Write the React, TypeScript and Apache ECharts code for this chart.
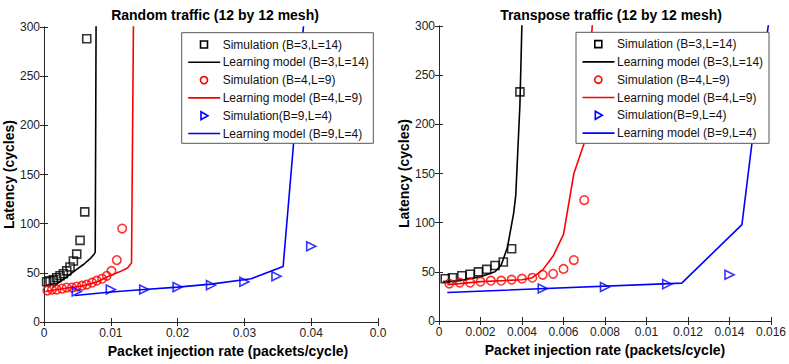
import React, { useEffect, useRef } from "react";
import * as echarts from "echarts";

// ---------- data ----------
const leftSimB3: [number, number][] = [
  [0.0004, 41], [0.0009, 42], [0.0014, 43], [0.0019, 45], [0.0024, 47], [0.0029, 49],
  [0.0034, 52], [0.0039, 56], [0.0044, 62], [0.0049, 69], [0.0054, 83], [0.0061, 112], [0.0064, 288],
];
const leftModelB3: [number, number][] = [
  [0.0013, 35], [0.002, 39], [0.003, 44], [0.004, 49], [0.005, 54], [0.006, 59],
  [0.007, 65], [0.0075, 69], [0.00767, 71], [0.0078, 310],
];
const leftSimB4: [number, number][] = [
  [0.0005, 32], [0.0012, 33], [0.0019, 33], [0.0027, 34], [0.0034, 35], [0.0042, 35],
  [0.0049, 36], [0.0057, 37], [0.0064, 38], [0.0072, 40], [0.0079, 42], [0.0087, 44],
  [0.0094, 47], [0.0101, 52], [0.0109, 63], [0.0117, 95],
];
const leftModelB4: [number, number][] = [
  [0.0002, 31], [0.002, 33], [0.004, 35], [0.006, 37], [0.008, 41], [0.0095, 46],
  [0.0113, 51], [0.0125, 55], [0.0131, 60], [0.0134, 310],
];
const leftSimB9: [number, number][] = [
  [0.0049, 31], [0.01, 33], [0.015, 33], [0.02, 35.5], [0.025, 37.5], [0.03, 41], [0.0348, 46.5], [0.04, 77],
];
const leftModelB9: [number, number][] = [
  [0.0046, 27], [0.01, 30.5], [0.015, 33], [0.02, 35.5], [0.025, 38.5], [0.031, 44],
  [0.0358, 56.5], [0.0389, 305],
];

const rightSimB3: [number, number][] = [
  [0.0003, 43], [0.00065, 44], [0.0011, 46], [0.0015, 47.5], [0.0019, 50], [0.0023, 52.5],
  [0.0027, 56.5], [0.0031, 60], [0.0035, 73.5], [0.0039, 233],
];
const rightModelB3: [number, number][] = [
  [0.0002, 40], [0.001, 41], [0.002, 45], [0.0027, 50], [0.003, 57], [0.0033, 75],
  [0.0036, 110], [0.0037, 128], [0.0039, 220], [0.004, 305],
];
const rightSimB4: [number, number][] = [
  [0.0005, 38], [0.001, 39], [0.0015, 39], [0.002, 40], [0.0025, 41], [0.003, 41],
  [0.0035, 42], [0.004, 43], [0.0045, 44], [0.005, 47], [0.0055, 48], [0.006, 53],
  [0.0065, 62], [0.007, 123],
];
const rightModelB4: [number, number][] = [
  [0.0004, 37], [0.001, 38], [0.002, 40], [0.003, 41], [0.004, 42], [0.0045, 44],
  [0.005, 52], [0.0055, 66], [0.006, 88], [0.0065, 150], [0.007, 181], [0.0074, 305],
];
const rightSimB9: [number, number][] = [
  [0.005, 33], [0.008, 34.5], [0.011, 37.5], [0.014, 47],
];
const rightModelB9: [number, number][] = [
  [0.0004, 29], [0.0117, 38.5], [0.0146, 98], [0.0151, 184], [0.0159, 305],
];

const legendLabels = [
  "Simulation (B=3,L=14)",
  "Learning model (B=3,L=14)",
  "Simulation (B=4,L=9)",
  "Learning model (B=4,L=9)",
  "Simulation(B=9,L=4)",
  "Learning model (B=9,L=4)",
];
const titles = ["Random traffic (12 by 12 mesh)", "Transpose traffic (12 by 12 mesh)"];
const xTitle = "Packet injection rate (packets/cycle)";
const yTitle = "Latency (cycles)";

const FONT = "Liberation Sans, Arial, Helvetica, sans-serif";
const BLACK = "#000000";
const RED = "#ff0000";
const BLUE = "#0000ff";
const AXIS = "#262626";

function fmtX(v: number) {
  if (Math.abs(v - 0.05) < 1e-9) return "0.0";
  return String(+v.toFixed(4));
}

function mainX(grid: number, max: number, interval: number, padLeft: number) {
  return {
    type: "value", gridIndex: grid, min: 0, max, interval, position: "bottom",
    name: xTitle, nameLocation: "middle", nameGap: 22,
    nameTextStyle: { fontFamily: FONT, fontSize: 14, fontWeight: "bold", color: "#000", verticalAlign: "top", padding: [0, 0, 0, padLeft] },
    axisLine: { show: true, lineStyle: { color: AXIS, width: 1 } },
    axisTick: { show: true, inside: true, length: 4, lineStyle: { color: AXIS } },
    axisLabel: { fontFamily: FONT, fontSize: 12, color: "#222", margin: 5, formatter: fmtX },
    splitLine: { show: false },
  };
}
function topX(grid: number, max: number, interval: number) {
  return {
    type: "value", gridIndex: grid, min: 0, max, interval, position: "top",
    axisLine: { show: true, lineStyle: { color: AXIS, width: 1 } },
    axisTick: { show: true, inside: true, length: 4, lineStyle: { color: AXIS } },
    axisLabel: { show: false }, splitLine: { show: false },
  };
}
function mainY(grid: number, gap: number) {
  return {
    type: "value", gridIndex: grid, min: 0, max: 300, interval: 50, position: "left",
    name: yTitle, nameLocation: "middle", nameGap: gap, nameRotate: 90,
    nameTextStyle: { fontFamily: FONT, fontSize: 14, fontWeight: "bold", color: "#000" },
    axisLine: { show: true, lineStyle: { color: AXIS, width: 1 } },
    axisTick: { show: true, inside: true, length: 4, lineStyle: { color: AXIS } },
    axisLabel: { fontFamily: FONT, fontSize: 12, color: "#222", margin: 4 },
    splitLine: { show: false },
  };
}
function rightY(grid: number) {
  return {
    type: "value", gridIndex: grid, min: 0, max: 300, interval: 50, position: "right",
    axisLine: { show: true, lineStyle: { color: AXIS, width: 1 } },
    axisTick: { show: true, inside: true, length: 4, lineStyle: { color: AXIS } },
    axisLabel: { show: false }, splitLine: { show: false },
  };
}

function sim(name: string, data: [number, number][], color: string, symbol: string, axis: number, size: number, rotate = 0) {
  return {
    type: "scatter", name, data, xAxisIndex: axis, yAxisIndex: axis,
    symbol, symbolSize: size, symbolRotate: rotate,
    itemStyle: { color: "rgba(0,0,0,0)", borderColor: color, borderWidth: 1.6 },
    z: 3,
  };
}
function model(name: string, data: [number, number][], color: string, axis: number) {
  return {
    type: "line", name, data, xAxisIndex: axis, yAxisIndex: axis,
    showSymbol: false, symbol: "none", clip: true,
    lineStyle: { color, width: 1.6 }, z: 2,
  };
}

function legendGraphic(x0: number, y0: number, w: number, h: number) {
  const rows = [44.3, 62.1, 79.9, 97.7, 115.5, 133.3].map((y) => y - 32.5 + y0);
  const Z = 100;
  const children: any[] = [
    { type: "rect", z: Z, shape: { x: x0, y: y0, width: w, height: h }, style: { fill: "#fff", stroke: "#555", lineWidth: 1 } },
  ];
  const mx = x0 + 22.3;
  const colors = [BLACK, BLACK, RED, RED, BLUE, BLUE];
  rows.forEach((ry, i) => {
    const c = colors[i];
    if (i % 2 === 1) {
      children.push({ type: "line", z: Z + 1, shape: { x1: x0 + 6.5, y1: ry, x2: x0 + 38.5, y2: ry }, style: { stroke: c, lineWidth: 1.6 } });
    } else if (i === 0) {
      children.push({ type: "rect", z: Z + 1, shape: { x: mx - 3.5, y: ry - 3.5, width: 7, height: 7 }, style: { fill: "none", stroke: c, lineWidth: 1.6 } });
    } else if (i === 2) {
      children.push({ type: "circle", z: Z + 1, shape: { cx: mx, cy: ry, r: 3.6 }, style: { fill: "none", stroke: c, lineWidth: 1.6 } });
    } else {
      children.push({ type: "polygon", z: Z + 1, shape: { points: [[mx - 3, ry - 4], [mx + 4, ry], [mx - 3, ry + 4]] }, style: { fill: "none", stroke: c, lineWidth: 1.6 } });
    }
    children.push({
      type: "text", z: Z + 1, x: x0 + 41, y: ry,
      style: { text: legendLabels[i], font: `12px ${FONT}`, fill: "#111", verticalAlign: "middle", align: "left" },
    });
  });
  return { type: "group", z: Z, children };
}

export default function App() {
  const ref = useRef<HTMLDivElement>(null);
  useEffect(() => {
    if (!ref.current) return;
    const chart = echarts.init(ref.current, undefined, { renderer: "svg" });
    chart.setOption({
      animation: false,
      backgroundColor: "#ffffff",
      title: [
        { text: titles[0], left: 210, top: 3, textAlign: "center", textStyle: { fontFamily: FONT, fontSize: 14, fontWeight: "bold", color: "#000" } },
        { text: titles[1], left: 606, top: 3, textAlign: "center", textStyle: { fontFamily: FONT, fontSize: 14, fontWeight: "bold", color: "#000" } },
      ],
      grid: [
        { left: 44, right: 411, top: 27, bottom: 42, containLabel: false },
        { left: 439, right: 17, top: 26, bottom: 43, containLabel: false },
      ],
      xAxis: [mainX(0, 0.05, 0.01, 34), topX(0, 0.05, 0.01), mainX(1, 0.016, 0.002, 0), topX(1, 0.016, 0.002)],
      yAxis: [mainY(0, 27), rightY(0), mainY(1, 28), rightY(1)],
      series: [
        sim(legendLabels[0], leftSimB3, BLACK, "rect", 0, 8),
        model(legendLabels[1], leftModelB3, BLACK, 0),
        sim(legendLabels[2], leftSimB4, RED, "circle", 0, 8.5),
        model(legendLabels[3], leftModelB4, RED, 0),
        sim(legendLabels[4], leftSimB9, BLUE, "triangle", 0, 9, -90),
        model(legendLabels[5], leftModelB9, BLUE, 0),
        sim(legendLabels[0], rightSimB3, BLACK, "rect", 2, 8),
        model(legendLabels[1], rightModelB3, BLACK, 2),
        sim(legendLabels[2], rightSimB4, RED, "circle", 2, 8.5),
        model(legendLabels[3], rightModelB4, RED, 2),
        sim(legendLabels[4], rightSimB9, BLUE, "triangle", 2, 9, -90),
        model(legendLabels[5], rightModelB9, BLUE, 2),
      ],
      graphic: [legendGraphic(181.7, 32.7, 191.6, 110.6), legendGraphic(576, 32.3, 193, 111)],
    });
    return () => chart.dispose();
  }, []);
  return <div ref={ref} style={{ position: "fixed", left: 0, top: 0, width: 789, height: 364 }} />;
}
